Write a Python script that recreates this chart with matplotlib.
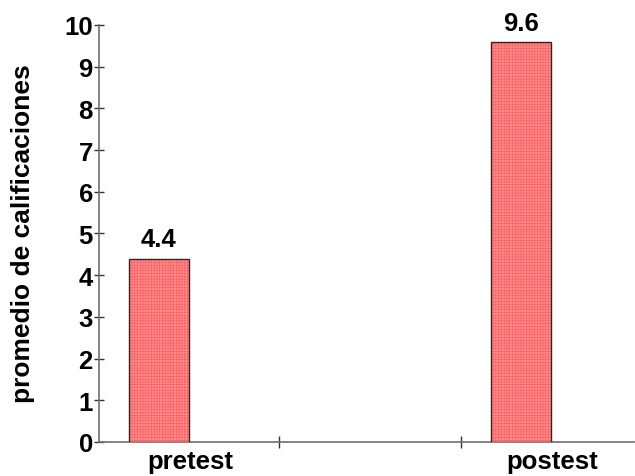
import matplotlib
matplotlib.use("Agg")
import matplotlib.pyplot as plt
from matplotlib.ticker import FixedLocator

categories = ["pretest", "postest"]
values = [4.4, 9.6]
value_labels = ["4.4", "9.6"]
y_ticks = [0, 1, 2, 3, 4, 5, 6, 7, 8, 9, 10]
y_label = "promedio de calificaciones"

plt.rcParams['font.family'] = ['Liberation Sans', 'DejaVu Sans']
plt.rcParams['hatch.linewidth'] = 0.4

fig = plt.figure(figsize=(6.35, 4.77), dpi=100)
ax = fig.add_axes([0.156, 0.0713, 0.842, 0.8742])

bar_pos = [0.336, 2.366]
label_pos = [0.51, 2.54]
bar_w = 0.336
fs = 18.5

bars = ax.bar(bar_pos, values, width=bar_w, color='#ff8c8c', edgecolor='#3a2020',
              linewidth=1.0, hatch='++++++', zorder=3)
for b in bars:
    b._hatch_color = matplotlib.colors.to_rgba('#ff5a5a')

for x, v, t in zip(bar_pos, values, value_labels):
    ax.text(x, v + 0.17, t, ha='center', va='bottom', fontsize=fs, fontweight='bold')

ax.set_xlim(0, 3)
ax.set_ylim(0, 10)
ax.set_yticks(y_ticks)
ax.set_yticklabels([str(t) for t in y_ticks], fontsize=fs, fontweight='bold')
ax.set_xticks(label_pos)
ax.set_xticklabels(categories, fontsize=fs, fontweight='bold')
ax.xaxis.set_minor_locator(FixedLocator([1.009, 2.03]))
ax.tick_params(axis='x', which='major', length=0, pad=5)
ax.tick_params(axis='x', which='minor', direction='inout', length=9, width=1, color='#333333')
ax.tick_params(axis='y', direction='inout', length=7, width=1, color='#333333', pad=1)

for s in ['top', 'right']:
    ax.spines[s].set_visible(False)
for s in ['left', 'bottom']:
    ax.spines[s].set_color('#707070')
    ax.spines[s].set_linewidth(1.2)

fig.text(0.037, 0.51, y_label, rotation=90, ha='center', va='center',
         fontsize=19, fontweight='bold')

fig.savefig("out.png", dpi=100)
